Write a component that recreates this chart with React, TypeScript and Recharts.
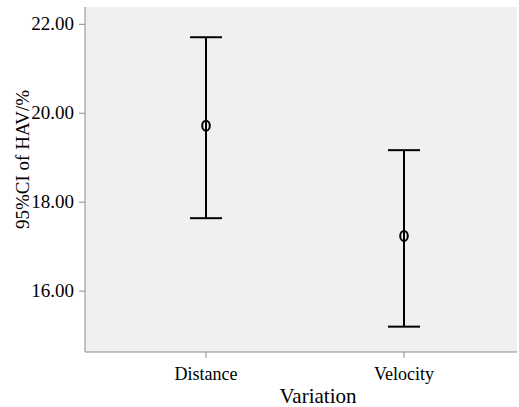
import React from 'react';
import { ComposedChart, Scatter, ErrorBar, XAxis, YAxis, CartesianGrid } from 'recharts';

const categories = ['Distance', 'Velocity'];
const means = [19.72, 17.24];
const lowers = [17.64, 15.2];
const uppers = [21.71, 19.17];
const yTicks = [16, 18, 20, 22];

const data = categories.map((c, i) => ({
  name: c,
  mean: means[i],
  err: [means[i] - lowers[i], uppers[i] - means[i]],
}));

const FONT = "'Liberation Serif', 'Times New Roman', Times, serif";

const Marker = (props: any) => {
  const { cx, cy } = props;
  return <ellipse cx={cx} cy={cy} rx={3.8} ry={5} fill="none" stroke="#000" strokeWidth={2} />;
};

const XTick = (props: any) => {
  const { x, y, payload } = props;
  return (
    <text x={x} y={y + 13} textAnchor="middle" style={{ fontFamily: FONT, fontSize: 18 }} fill="#000">
      {payload.value}
    </text>
  );
};

const YTick = (props: any) => {
  const { x, y, payload } = props;
  return (
    <text x={x} y={y + 6} textAnchor="end" style={{ fontFamily: FONT, fontSize: 19 }} fill="#000">
      {Number(payload.value).toFixed(2)}
    </text>
  );
};

const YLabel = (props: any) => {
  const vb = props.viewBox || {};
  const x = 29;
  const y = (vb.y ?? 0) + (vb.height ?? 0) / 2 - 20;
  return (
    <text x={x} y={y} transform={`rotate(-90, ${x}, ${y})`} textAnchor="middle"
      style={{ fontFamily: FONT, fontSize: 19 }} fill="#000">
      95%CI of HAV/%
    </text>
  );
};

const XLabel = (props: any) => {
  const vb = props.viewBox || {};
  const x = (vb.x ?? 0) + (vb.width ?? 0) / 2 + 17;
  const y = 403;
  return (
    <text x={x} y={y} textAnchor="middle" style={{ fontFamily: FONT, fontSize: 21 }} fill="#000">
      Variation
    </text>
  );
};

export default function App() {
  return (
    <div style={{ position: 'absolute', left: 0, top: 0, background: '#fff' }}>
      <ComposedChart width={519} height={407} data={data} margin={{ top: 7, right: 2, bottom: 0, left: 0 }}>
        <CartesianGrid fill="#f0f0f0" horizontal={false} vertical={false} stroke="none" />
        <XAxis
          dataKey="name"
          type="category"
          padding={{ left: 121, right: 113 }}
          height={55}
          tickSize={6}
          tickMargin={9}
          stroke="#8c8c8c"
          tick={<XTick />}
          label={<XLabel />}
        />
        <YAxis
          type="number"
          domain={[14.63, 22.39]}
          ticks={yTicks}
          width={85}
          tickSize={6}
          tickMargin={5}
          stroke="#8c8c8c"
          allowDataOverflow
          tick={<YTick />}
          label={<YLabel />}
        />
        <Scatter dataKey="mean" shape={<Marker />} isAnimationActive={false}>
          <ErrorBar dataKey="err" width={16} stroke="#000" strokeWidth={2} direction="y" />
        </Scatter>
      </ComposedChart>
    </div>
  );
}
